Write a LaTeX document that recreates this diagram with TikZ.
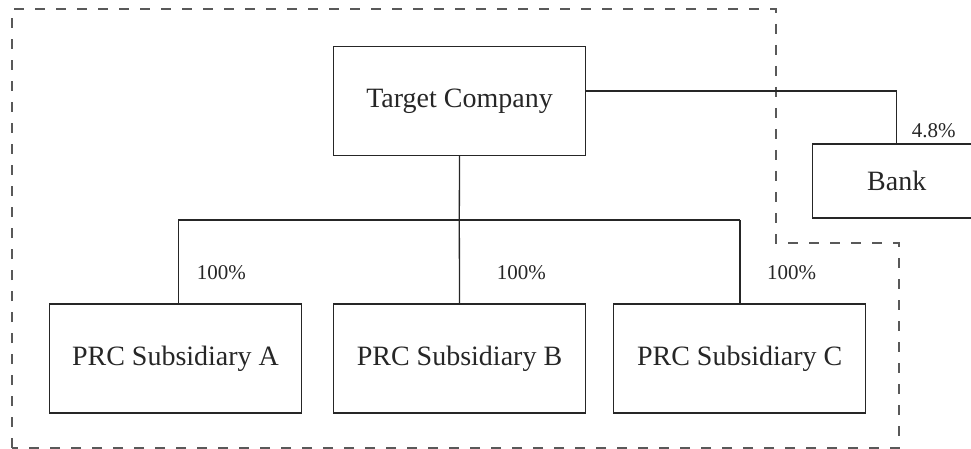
\documentclass[tikz,border=0pt]{standalone}
\usepackage{fontspec}
\setmainfont{Liberation Serif}
\begin{document}
\begin{tikzpicture}[x=1pt,y=-1pt,
  entity/.style={draw=black!85, line width=1.3pt, inner sep=0pt, text=black!85,
    font=\fontsize{28}{32}\selectfont},
  sub/.style={entity, minimum width=252pt, minimum height=109pt},
  share/.style={inner sep=0pt, anchor=west, text=black!85,
    font=\fontsize{21}{25}\selectfont},
  link/.style={draw=black!85, line width=1.3pt},
  group/.style={draw=black!65, line width=1.4pt, dash pattern=on 10pt off 11pt}]
\useasboundingbox (0,0) rectangle (971,449);
\clip (0,0) rectangle (971,449);

% consolidated group boundary
\draw[group] (12,448) -- (12,9) -- (776,9) -- (776,243) -- (899,243) -- (899,448) -- cycle;

% entities
\node[entity, minimum width=252pt, minimum height=109pt] (target) at (459.5,100.8) {Target Company};
\node[entity, minimum width=168pt, minimum height=74pt] (bank) at (896.7,181) {Bank};
\node[sub] (subA) at (175.5,358.5) {PRC Subsidiary A};
\node[sub] (subB) at (459.5,358.5) {PRC Subsidiary B};
\node[sub] (subC) at (739.7,358.5) {PRC Subsidiary C};

% junction points of the ownership tree
\coordinate (tout) at (585.7,91);
\coordinate (bankdrop) at (bank.north |- tout);
\coordinate (bus) at (459.3,220);
\coordinate (busA) at (178.3,220);
\coordinate (busC) at (740,220);

% connectors
\draw[link] (tout) -- (bankdrop) -- (bank.north);
\draw[link] (target.south) -- (bus);
\draw[link] (busA) -- (busC);
\draw[link] (busA) -- (busA |- subA.north);
\draw[link] (bus) -- (subB.north);
\draw[link] (busC) -- (busC |- subC.north);

% shareholdings
\node[share] (pA) at (196.7,272.5) {100\%};
\node[share] (pB) at (496.7,272.5) {100\%};
\node[share] (pC) at (767,272.5) {100\%};
\node[share] (pBank) at (911.7,130.5) {4.8\%};
\end{tikzpicture}
\end{document}
